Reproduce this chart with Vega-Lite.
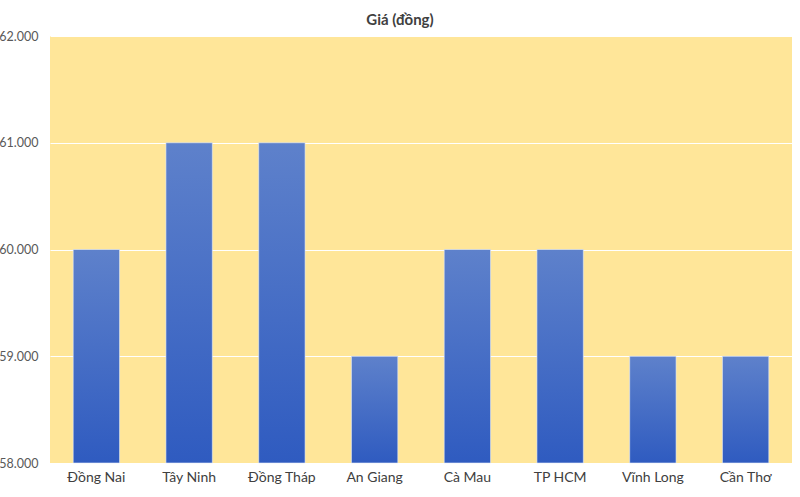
{
  "$schema": "https://vega.github.io/schema/vega-lite/v6.json",
  "width": 742,
  "height": 427,
  "autosize": {"type": "none"},
  "padding": {"left": 50, "top": 36, "right": 8, "bottom": 34},
  "background": "white",
  "title": {
    "text": "Giá (đồng)",
    "font": "Lato",
    "fontSize": 15,
    "fontWeight": "bold",
    "color": "#404040",
    "anchor": "middle",
    "dx": -21,
    "offset": 2
  },
  "data": {
    "values": [
      {"tinh": "Đồng Nai", "gia": 60000},
      {"tinh": "Tây Ninh", "gia": 61000},
      {"tinh": "Đồng Tháp", "gia": 61000},
      {"tinh": "An Giang", "gia": 59000},
      {"tinh": "Cà Mau", "gia": 60000},
      {"tinh": "TP HCM", "gia": 60000},
      {"tinh": "Vĩnh Long", "gia": 59000},
      {"tinh": "Cần Thơ", "gia": 59000}
    ]
  },
  "mark": {
    "type": "bar",
    "color": {
      "gradient": "linear",
      "x1": 0, "y1": 0, "x2": 0, "y2": 1,
      "stops": [
        {"offset": 0, "color": "#5E81CB"},
        {"offset": 1, "color": "#2F5BC0"}
      ]
    },
    "stroke": "#E8EEF8",
    "strokeWidth": 0.6
  },
  "encoding": {
    "x": {
      "field": "tinh",
      "type": "nominal",
      "sort": null,
      "title": null,
      "scale": {"paddingInner": 0.5, "paddingOuter": 0.25},
      "axis": {
        "labelAngle": 0,
        "labelFont": "Lato",
        "labelFontSize": 14,
        "labelColor": "#404040",
        "labelPadding": 7,
        "ticks": false,
        "domain": false,
        "grid": false
      }
    },
    "y": {
      "field": "gia",
      "type": "quantitative",
      "title": null,
      "scale": {"domain": [58000, 62000], "zero": false, "nice": false},
      "axis": {
        "values": [58000, 59000, 60000, 61000, 62000],
        "labelExpr": "replace(format(datum.value, ','), ',', '.')",
        "labelFont": "Lato",
        "labelFontSize": 12.5,
        "labelColor": "#595959",
        "labelPadding": 12,
        "ticks": false,
        "domain": false,
        "grid": true,
        "gridColor": "white",
        "gridWidth": 1
      }
    },
    "y2": {"datum": 58000}
  },
  "config": {
    "view": {"fill": "#FFE699", "stroke": null}
  }
}
